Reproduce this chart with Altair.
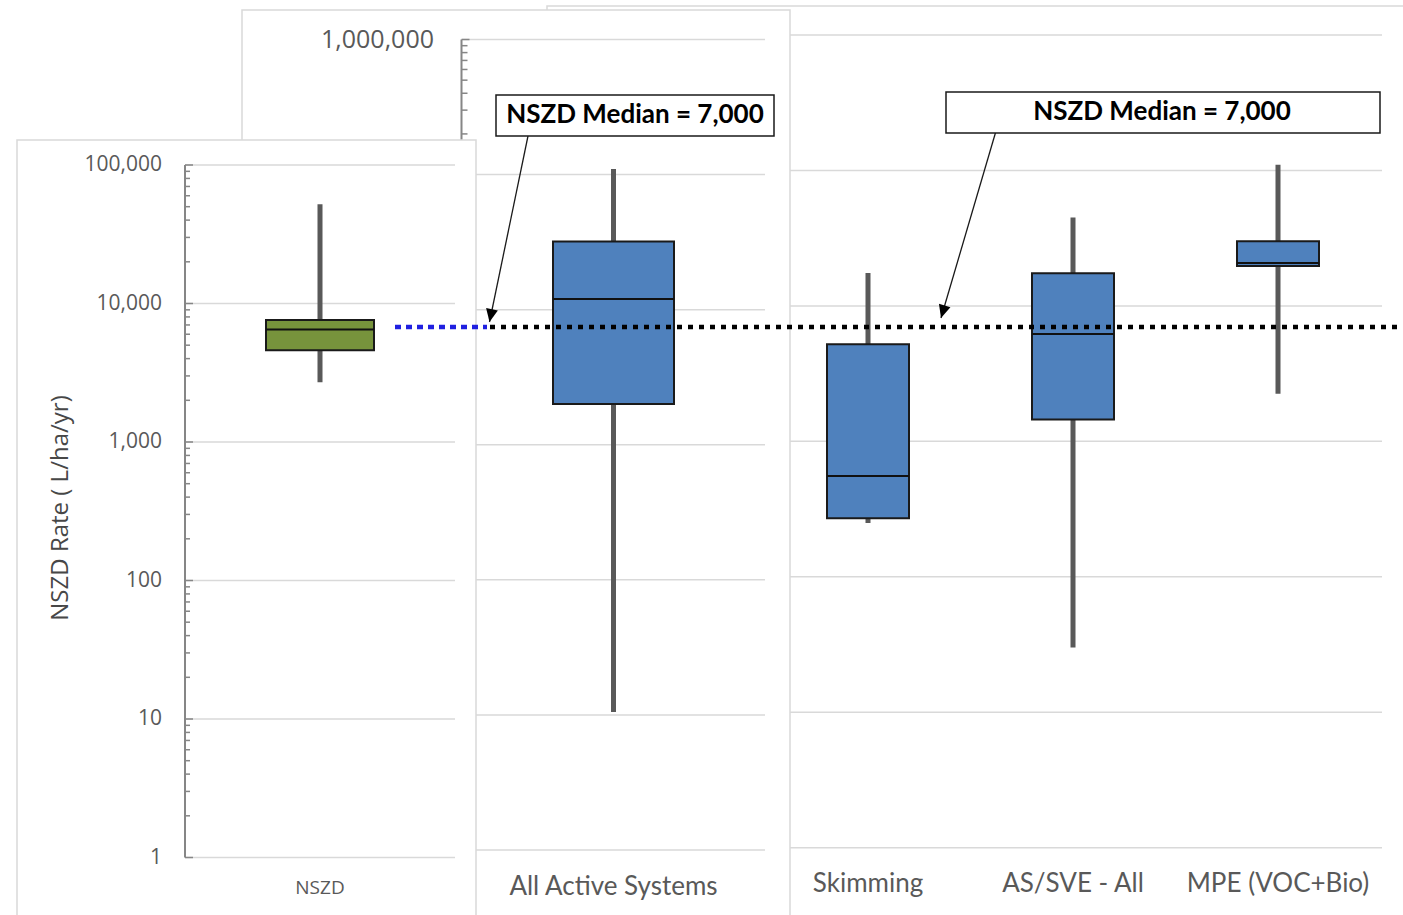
import altair as alt
import pandas as pd

# ---------------- data (NSZD / removal rates, L/ha/yr) ----------------
nszd_cats = ["NSZD"]
nszd_low = [2700]
nszd_q1 = [4600]
nszd_med = [6500]
nszd_q3 = [7600]
nszd_high = [52000]

active_cats = ["All Active Systems"]
active_low = [10.5]
active_q1 = [2000]
active_med = [12000]
active_q3 = [32000]
active_high = [110000]

tech_cats = ["Skimming", "AS/SVE - All", "MPE (VOC+Bio)"]
tech_low = [250, 30, 2250]
tech_q1 = [270, 1450, 19700]
tech_med = [555, 6200, 20700]
tech_q3 = [5200, 17400, 30000]
tech_high = [17500, 45000, 110000]

nszd_median = 7000
median_label = "NSZD Median = 7,000"
y_title = "NSZD Rate ( L/ha/yr)"

decades = [1, 10, 100, 1000, 10000, 100000, 1000000]
decade_labels = ["1", "10", "100", "1,000", "10,000", "100,000", "1,000,000"]

GRID = "#d9d9d9"
AXIS = "#868686"
TEXT = "#595959"
GREEN = "#77933c"
BLUE = "#4f81bd"

ONE = pd.DataFrame({"k": [0]})


def log_scale(top, y_top, y_bottom):
    return alt.Scale(type="log", domain=[1, top], range=[y_bottom, y_top], nice=False)


def band_scale(cats, x0, x1):
    return alt.Scale(type="band", domain=cats, range=[x0, x1], paddingInner=0, paddingOuter=0)


def frame(x0, x1, y0, y1):
    return alt.Chart(ONE).mark_rect(fill="white", stroke=GRID, strokeWidth=1.5).encode(
        x=alt.value(x0), x2=alt.value(x1), y=alt.value(y0), y2=alt.value(y1)
    )


def grid(values, ysc, x0, x1):
    return alt.Chart(pd.DataFrame({"v": values})).mark_rule(color=GRID, strokeWidth=1.5).encode(
        y=alt.Y("v:Q", scale=ysc, axis=None), x=alt.value(x0), x2=alt.value(x1)
    )


def y_axis(top, ysc, x_axis, major_len, minor_len, label_x, font_size):
    major = [d for d in decades if d <= top]
    labels = decade_labels[: len(major)]
    minor = [m * d for d in major[:-1] for m in range(2, 10)]
    line = alt.Chart(pd.DataFrame({"lo": [major[0]], "hi": [major[-1]]})).mark_rule(
        color=AXIS, strokeWidth=2
    ).encode(x=alt.value(x_axis), y=alt.Y("lo:Q", scale=ysc, axis=None), y2="hi:Q")
    major_ticks = alt.Chart(pd.DataFrame({"v": major})).mark_rule(color=AXIS, strokeWidth=1.5).encode(
        y=alt.Y("v:Q", scale=ysc, axis=None), x=alt.value(x_axis), x2=alt.value(x_axis + major_len)
    )
    minor_ticks = alt.Chart(pd.DataFrame({"v": minor})).mark_rule(color=AXIS, strokeWidth=1.5).encode(
        y=alt.Y("v:Q", scale=ysc, axis=None), x=alt.value(x_axis), x2=alt.value(x_axis + minor_len)
    )
    text = alt.Chart(pd.DataFrame({"v": major, "t": labels})).mark_text(
        align="right", baseline="middle", font="Open Sans", fontSize=font_size, color=TEXT
    ).encode(y=alt.Y("v:Q", scale=ysc, axis=None), x=alt.value(label_x), text="t:N")
    return [line, major_ticks, minor_ticks, text]


def boxes(cats, low, q1, med, q3, high, color, box_w, xsc, ysc):
    df = pd.DataFrame({"cat": cats, "low": low, "q1": q1, "med": med, "q3": q3, "high": high})
    x = alt.X("cat:N", sort=cats, scale=xsc, axis=None)
    base = alt.Chart(df).encode(x=x)
    whisker = base.mark_rule(color=TEXT, strokeWidth=5).encode(
        y=alt.Y("low:Q", scale=ysc, axis=None), y2="high:Q"
    )
    box = base.mark_bar(size=box_w, fill=color, stroke="#1a1a1a", strokeWidth=2, opacity=1).encode(
        y=alt.Y("q1:Q", scale=ysc, axis=None), y2="q3:Q"
    )
    mid = base.mark_tick(size=box_w, thickness=2, color="#111111", opacity=1).encode(
        y=alt.Y("med:Q", scale=ysc, axis=None)
    )
    return [whisker, box, mid]


def cat_labels(cats, xsc, y, font, size):
    return alt.Chart(pd.DataFrame({"cat": cats})).mark_text(
        font=font, fontSize=size, color=TEXT, baseline="middle"
    ).encode(x=alt.X("cat:N", sort=cats, scale=xsc, axis=None), y=alt.value(y), text="cat:N")


# ---------------- right chart: individual technologies ----------------
y3 = log_scale(1e6, 35, 847.7)
x3 = band_scale(tech_cats, 765.5, 1380.5)
panel3 = alt.layer(
    frame(547, 1440, 6, 960),
    grid(decades, y3, 766, 1382),
    *boxes(tech_cats, tech_low, tech_q1, tech_med, tech_q3, tech_high, BLUE, 82, x3, y3),
    cat_labels(tech_cats, x3, 884, "Lato", 26),
)

# ---------------- middle chart: all active systems ----------------
y2 = log_scale(1e6, 39.5, 850)
x2 = band_scale(active_cats, 462, 765)
panel2 = alt.layer(
    frame(242, 790, 10, 960),
    grid(decades, y2, 462, 765),
    *y_axis(1e6, y2, 461.5, 8, 6, 434, 25),
    *boxes(active_cats, active_low, active_q1, active_med, active_q3, active_high, BLUE, 121, x2, y2),
    cat_labels(active_cats, x2, 887, "Lato", 26),
)

# ---------------- left chart: NSZD ----------------
y1 = log_scale(1e5, 165, 857.5)
x1 = band_scale(nszd_cats, 185, 455)
title1 = alt.Chart(ONE).mark_text(
    text=y_title, angle=270, font="Open Sans", fontSize=24, color="#474747", baseline="middle"
).encode(x=alt.value(61), y=alt.value(508))
panel1 = alt.layer(
    frame(17, 476, 140, 960),
    grid(decades[:-1], y1, 185, 455),
    *y_axis(1e5, y1, 185, 8, 5, 162, 21),
    title1,
    *boxes(nszd_cats, nszd_low, nszd_q1, nszd_med, nszd_q3, nszd_high, GREEN, 108, x1, y1),
    cat_labels(nszd_cats, x1, 888, "Open Sans", 19),
)

# ---------------- NSZD median reference line and callouts ----------------
ym = log_scale(1e6, 35, 847.7)
med_df = pd.DataFrame({"v": [nszd_median]})
blue_line = alt.Chart(med_df).mark_rule(color="#2020e0", strokeWidth=4.5, strokeDash=[6, 5]).encode(
    y=alt.Y("v:Q", scale=ym, axis=None), x=alt.value(395), x2=alt.value(487)
)
black_line = alt.Chart(med_df).mark_rule(color="black", strokeWidth=4.5, strokeDash=[5, 6]).encode(
    y=alt.Y("v:Q", scale=ym, axis=None), x=alt.value(490), x2=alt.value(1403)
)

ARROW_HEAD = "M0,0L-0.46,-1L0.46,-1Z"


def callout(bx0, bx1, by0, by1, tx, ty, ax0, ay0, ax1, ay1, angle):
    line = alt.Chart(ONE).mark_rule(color="#1a1a1a", strokeWidth=1.3).encode(
        x=alt.value(ax0), y=alt.value(ay0), x2=alt.value(ax1), y2=alt.value(ay1)
    )
    head = alt.Chart(ONE).mark_point(
        shape=ARROW_HEAD, filled=True, size=676, color="black", opacity=1, angle=angle
    ).encode(x=alt.value(ax1), y=alt.value(ay1))
    box = alt.Chart(ONE).mark_rect(fill="white", stroke="#1a1a1a", strokeWidth=1.5).encode(
        x=alt.value(bx0), x2=alt.value(bx1), y=alt.value(by0), y2=alt.value(by1)
    )
    text = alt.Chart(ONE).mark_text(
        text=median_label, font="Lato", fontWeight="bold", fontSize=26, color="black", baseline="middle"
    ).encode(x=alt.value(tx), y=alt.value(ty))
    return [line, head, box, text]


overlay = alt.layer(
    blue_line,
    black_line,
    *callout(496, 774, 95, 136, 635, 115, 528, 136, 489.5, 322, 11),
    *callout(946, 1380, 92, 133, 1162, 112, 996, 131, 941, 318, 16.5),
)

chart = (
    alt.layer(panel3, panel2, panel1, overlay)
    .resolve_scale(x="independent", y="independent")
    .properties(width=1403, height=915, padding=0, autosize="none", background="white")
    .configure_view(stroke=None)
)

chart.save("out.html", embed_options={"renderer": "svg", "actions": False})
